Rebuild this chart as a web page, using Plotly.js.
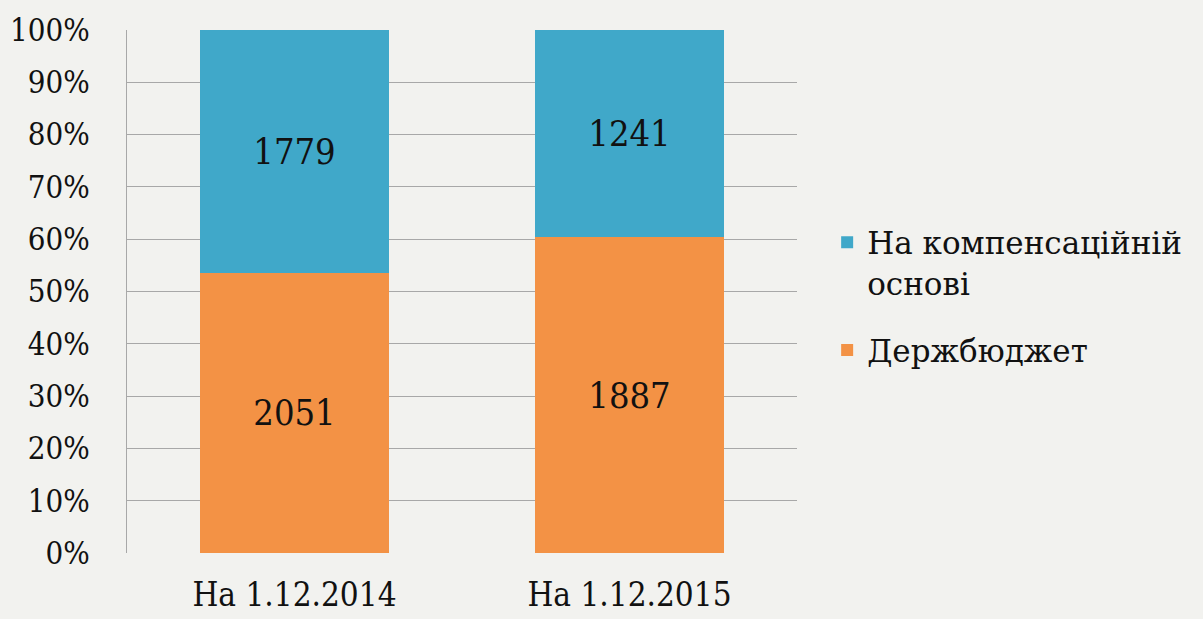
<!DOCTYPE html>
<html>
<head>
<meta charset="utf-8">
<script src="https://cdn.plot.ly/plotly-3.0.1.min.js"></script>
<style>
html,body{margin:0;padding:0;background:#f2f2ef;}
#chart{width:1203px;height:619px;}
</style>
</head>
<body>
<div id="chart"></div>
<script>
const categories = ["На 1.12.2014", "На 1.12.2015"];
const budgetValues = [2051, 1887];
const paidValues = [1779, 1241];
const budgetName = "Держбюджет";
const paidName = "На компенсаційній<br>основі";
const yTickVals = [0,10,20,30,40,50,60,70,80,90,100];
const yTickText = ["0%","10%","20%","30%","40%","50%","60%","70%","80%","90%","100%"];

const FONT = "DejaVu Serif Condensed, Liberation Serif, serif";
const LFONT = "DejaVu Serif, Liberation Serif, serif";

const traces = [
  {
    type: "bar", name: budgetName, x: categories, y: budgetValues,
    legendgroup: "b", legendrank: 2,
    text: budgetValues.map(String), textposition: "inside", insidetextanchor: "middle",
    textfont: {family: FONT, size: 36, color: "#111"},
    marker: {color: "#f39245"}, width: 0.565, hoverinfo: "none"
  },
  {
    type: "bar", name: paidName, x: categories, y: paidValues,
    legendgroup: "p", legendrank: 1,
    text: paidValues.map(String), textposition: "inside", insidetextanchor: "middle",
    textfont: {family: FONT, size: 36, color: "#111"},
    marker: {color: "#40a8c9"}, width: 0.565, hoverinfo: "none"
  }
];

const layout = {
  width: 1203, height: 619,
  barmode: "stack", barnorm: "percent",
  paper_bgcolor: "#f2f2ef", plot_bgcolor: "#f2f2ef",
  margin: {l: 127, r: 406, t: 30, b: 66},
  font: {family: FONT, color: "#111"},
  showlegend: true,
  legend: {
    x: 1.045, y: 0.645, xanchor: "left", yanchor: "top",
    traceorder: "grouped", valign: "top", tracegroupgap: 24,
    font: {family: LFONT, size: 31, color: "#111"},
    bgcolor: "rgba(0,0,0,0)"
  },
  xaxis: {
    type: "category",
    tickfont: {family: FONT, size: 33, color: "#111"},
    showline: false, ticks: "", showgrid: false, ticklabelstandoff: 19
  },
  yaxis: {
    range: [0, 100], tickmode: "array", tickvals: yTickVals, ticktext: yTickText,
    tickfont: {family: FONT, size: 31, color: "#111"},
    showgrid: true, gridcolor: "#a8a8a8", gridwidth: 1,
    showline: true, linecolor: "#a8a8a8", linewidth: 1,
    ticks: "", ticklabelstandoff: 30, zeroline: false
  }
};

Plotly.newPlot("chart", traces, layout, {staticPlot: true});
</script>
</body>
</html>
